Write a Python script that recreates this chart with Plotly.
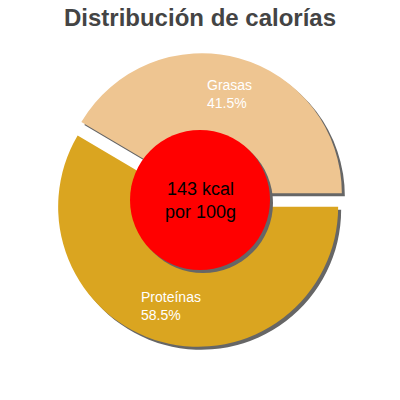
import math
import plotly.graph_objects as go

# datos
categorias = ["Grasas", "Proteínas"]
porcentajes = [41.5, 58.5]
colores = ["#EEC591", "#DAA520"]
titulo = "Distribución de calorías"
texto_centro = "143 kcal<br>por 100g"

_SHADOW = "#666666"
_PULL = 0.05
_HOLE = 0.4
_DOM = (0.1325, 0.8675)
_OFF = 3 / 400  # desplazamiento de la sombra
_FONT = "Liberation Sans, Arial, sans-serif"

# orden invertido + sentido horario => Grasas arriba (desde las 3 en punto hacia la izquierda)
cats_pie = categorias[::-1]
vals_pie = porcentajes[::-1]
cols_pie = colores[::-1]

fig = go.Figure()

# sombra de los sectores
fig.add_trace(go.Pie(
    labels=cats_pie, values=vals_pie, sort=False,
    direction="clockwise", rotation=90, hole=_HOLE, pull=_PULL,
    marker=dict(colors=[_SHADOW] * len(cats_pie), line=dict(width=0)),
    textinfo="none", hoverinfo="skip", showlegend=False,
    domain=dict(x=[_DOM[0] + _OFF, _DOM[1] + _OFF], y=[_DOM[0] - _OFF, _DOM[1] - _OFF]),
))

# sectores
fig.add_trace(go.Pie(
    labels=cats_pie, values=vals_pie, sort=False,
    direction="clockwise", rotation=90, hole=_HOLE, pull=_PULL,
    marker=dict(colors=cols_pie, line=dict(width=0)),
    textinfo="none", hovertemplate="%{label}: %{value}%<extra></extra>",
    showlegend=False,
    domain=dict(x=list(_DOM), y=list(_DOM)),
))

# etiquetas dentro de cada sector (posición según el ángulo medio, antihorario desde las 3)
total = sum(porcentajes)
acum = 0.0
r_lab = 110 / 400
annotations = []
for cat, val in zip(categorias, porcentajes):
    mid = math.radians((acum + val / 2) / total * 360)
    acum += val
    annotations.append(dict(
        x=0.5 + r_lab * math.cos(mid), y=0.5 + r_lab * math.sin(mid),
        xref="paper", yref="paper", xanchor="center", yanchor="middle",
        showarrow=False, align="left",
        text=f"{cat}<br>{val:.1f}%",
        font=dict(family=_FONT, size=14, color="white"),
    ))

annotations.append(dict(
    x=0.5, y=0.5, xref="paper", yref="paper", xanchor="center", yanchor="middle",
    showarrow=False, text=texto_centro,
    font=dict(family=_FONT, size=18, color="black"),
))

fig.update_layout(
    width=400, height=400,
    margin=dict(l=0, r=0, t=0, b=0),
    paper_bgcolor="white", plot_bgcolor="white",
    title=dict(text=f"<b>{titulo}</b>", x=0.5, xanchor="center",
               y=1 - 18 / 400, yref="container", yanchor="middle",
               font=dict(family=_FONT, size=24, color="#444444")),
    shapes=[
        dict(type="circle", xref="paper", yref="paper", layer="above",
             x0=0.325 + _OFF, x1=0.675 + _OFF, y0=0.325 - _OFF, y1=0.675 - _OFF,
             fillcolor=_SHADOW, line=dict(width=0)),
        dict(type="circle", xref="paper", yref="paper", layer="above",
             x0=0.325, x1=0.675, y0=0.325, y1=0.675,
             fillcolor="#FF0000", line=dict(width=0)),
    ],
    annotations=annotations,
)

fig.write_html("out.html", config={"displayModeBar": False},
               post_script="document.body.style.margin='0';")
